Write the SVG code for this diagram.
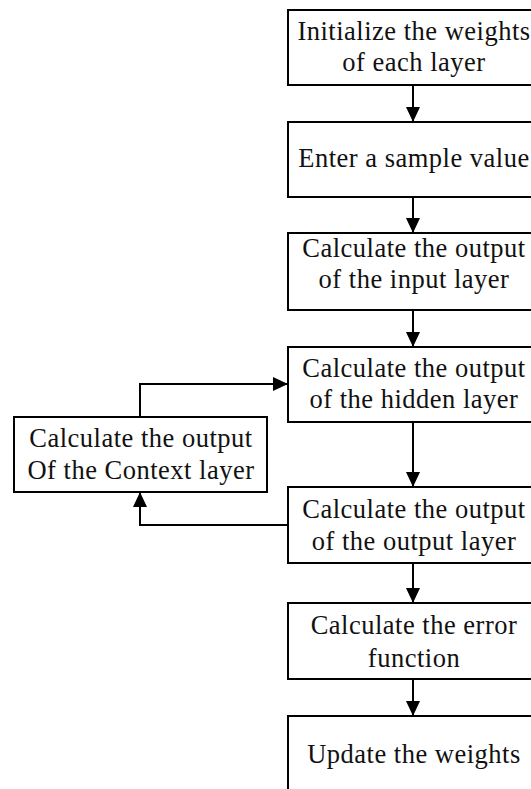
<svg xmlns="http://www.w3.org/2000/svg" width="531" height="789" viewBox="0 0 531 789">
<defs>
<marker id="ah" markerWidth="16" markerHeight="16" refX="15" refY="7" orient="auto" markerUnits="userSpaceOnUse">
<path d="M0,0 L15,7 L0,14 Z" fill="#000"/>
</marker>
<style>
.box{fill:#fff;stroke:#000;stroke-width:2}
.t{font-family:"Liberation Serif","Times New Roman",serif;font-size:26.5px;letter-spacing:0.5px;fill:#111;text-anchor:middle}
.c{fill:none;stroke:#000;stroke-width:2}
</style>
</defs>
<rect width="531" height="789" fill="#fff"/>
<g id="n1"><rect class="box" x="288" y="10" width="260" height="75"/><text class="t" x="414" y="40">Initialize the weights</text><text class="t" x="414" y="71">of each layer</text></g>
<g id="n2"><rect class="box" x="288" y="122" width="260" height="75"/><text class="t" x="414" y="167">Enter a sample value</text></g>
<g id="n3"><rect class="box" x="288" y="233" width="260" height="77"/><text class="t" x="414" y="257">Calculate the output</text><text class="t" x="414" y="288">of the input layer</text></g>
<g id="n4"><rect class="box" x="288" y="347" width="260" height="75"/><text class="t" x="414" y="377">Calculate the output</text><text class="t" x="414" y="408">of the hidden layer</text></g>
<g id="n5"><rect class="box" x="288" y="487" width="260" height="76"/><text class="t" x="414" y="518">Calculate the output</text><text class="t" x="414" y="550">of the output layer</text></g>
<g id="n6"><rect class="box" x="288" y="603" width="260" height="76"/><text class="t" x="414" y="634">Calculate the error</text><text class="t" x="414" y="667">function</text></g>
<g id="n7"><rect class="box" x="288" y="716" width="260" height="90"/><text class="t" x="414" y="763">Update the weights</text></g>
<g id="n8"><rect class="box" x="14" y="417" width="253" height="75"/><text class="t" x="141" y="447">Calculate the output</text><text class="t" x="141" y="479">Of the Context layer</text></g>
<g id="connectors">
<path class="c" d="M413,85 V122" marker-end="url(#ah)"/>
<path class="c" d="M413,197 V233" marker-end="url(#ah)"/>
<path class="c" d="M413,310 V347" marker-end="url(#ah)"/>
<path class="c" d="M413,422 V487" marker-end="url(#ah)"/>
<path class="c" d="M413,563 V603" marker-end="url(#ah)"/>
<path class="c" d="M413,679 V716" marker-end="url(#ah)"/>
<path class="c" d="M288,525 H140 V492" marker-end="url(#ah)"/>
<path class="c" d="M140,417 V384 H288" marker-end="url(#ah)"/>
</g>
</svg>
